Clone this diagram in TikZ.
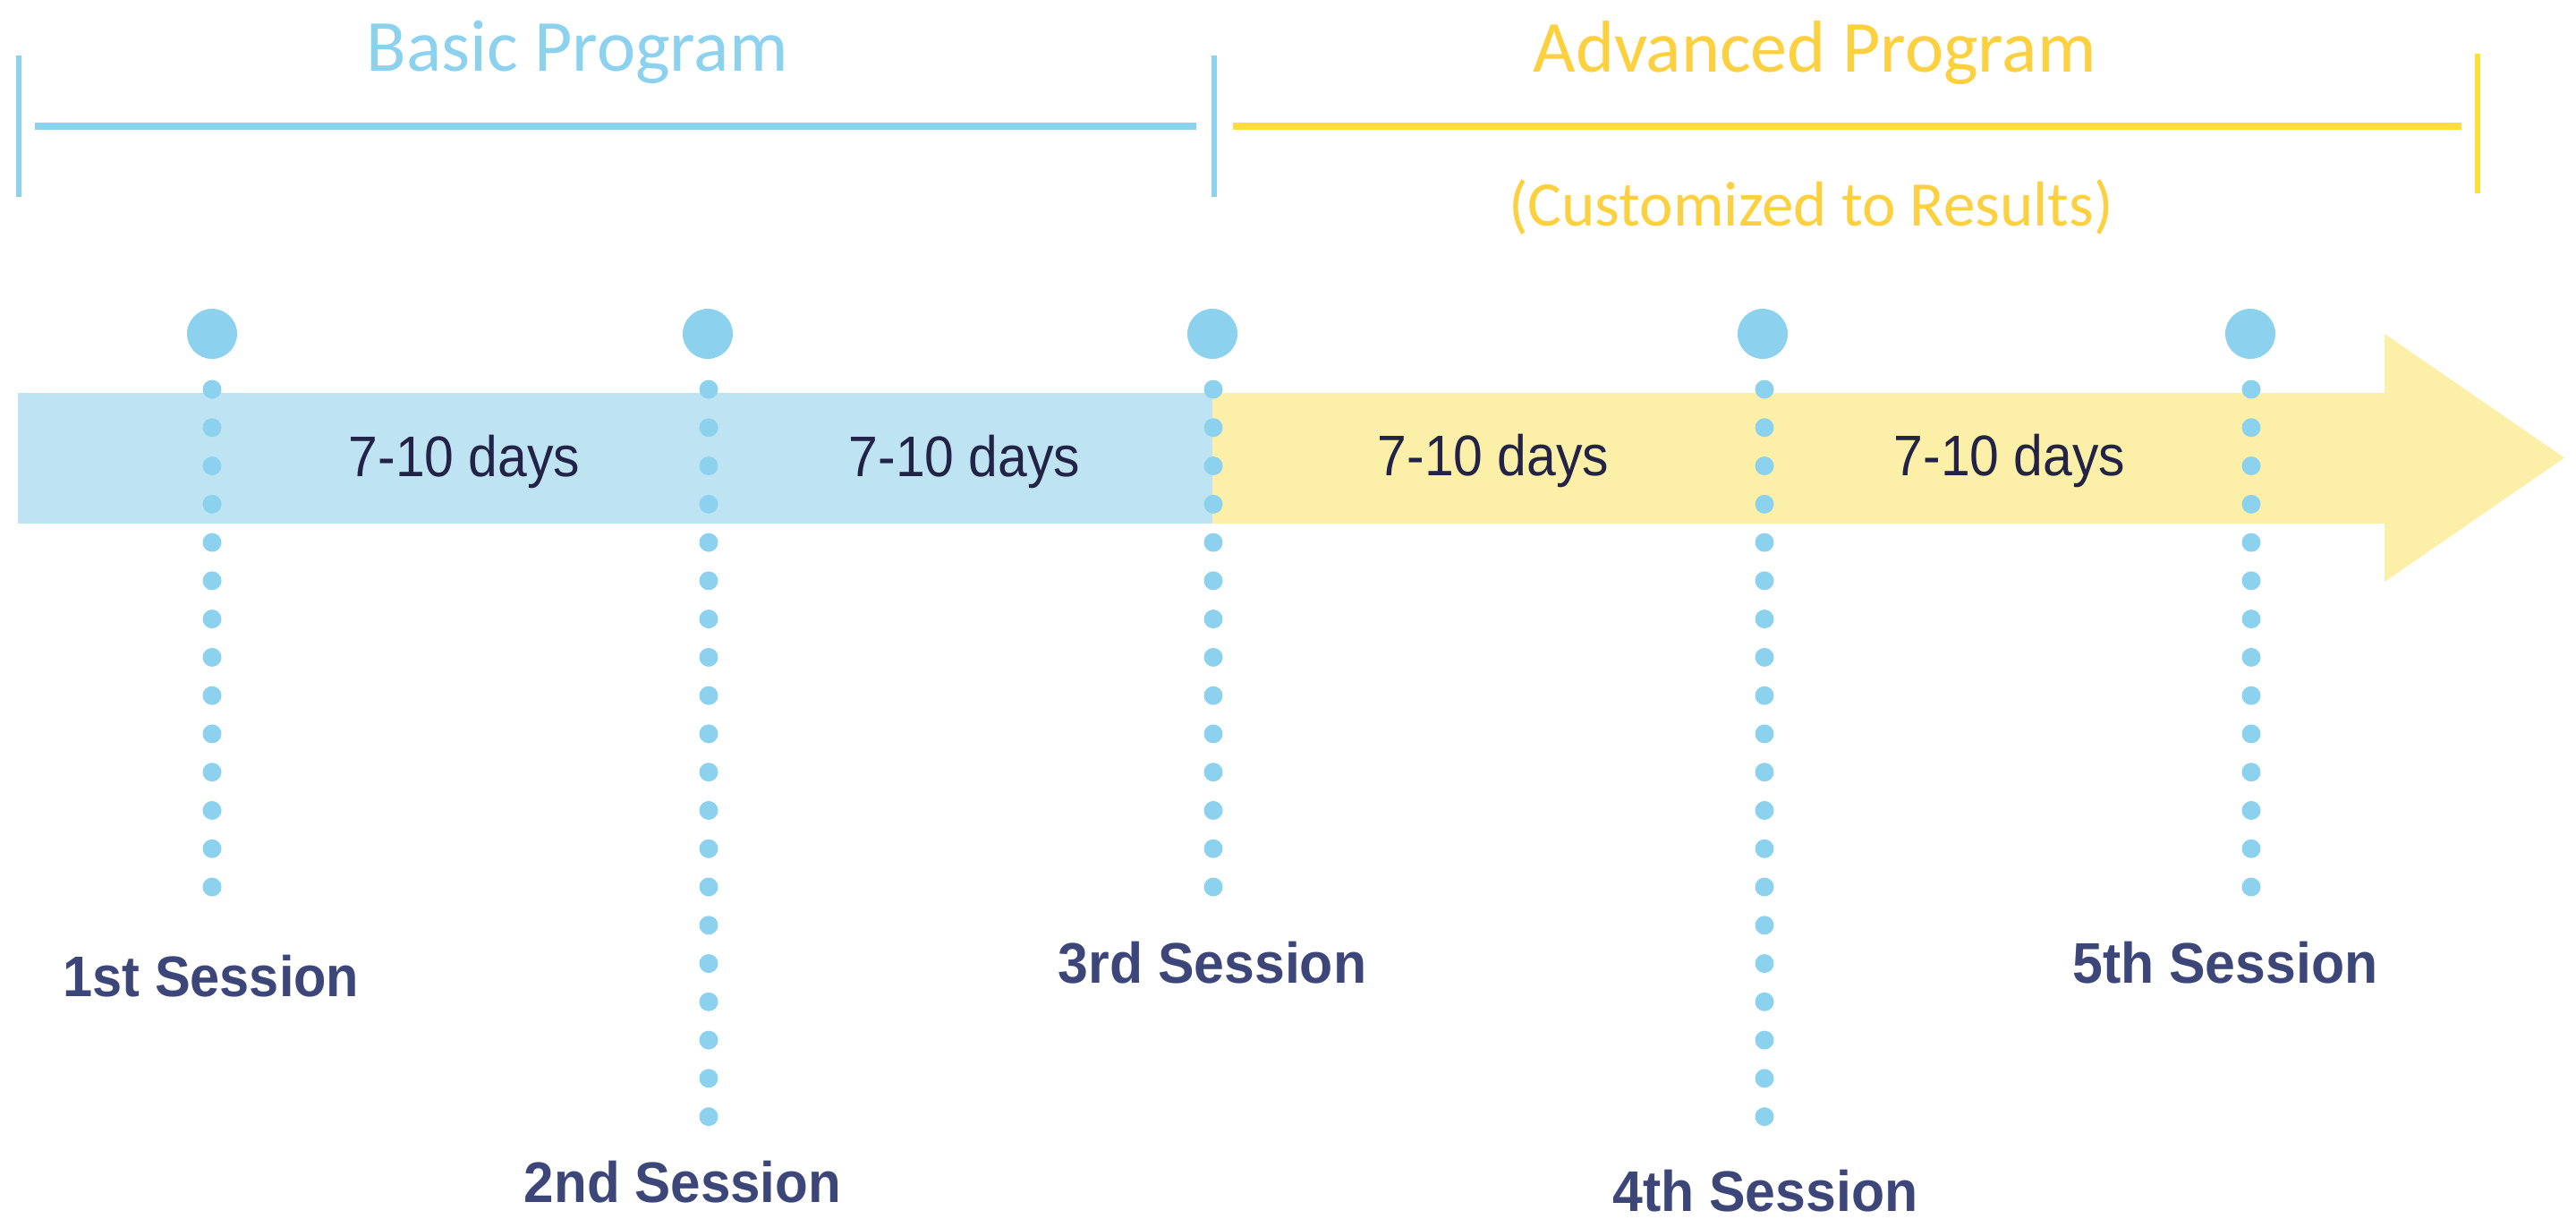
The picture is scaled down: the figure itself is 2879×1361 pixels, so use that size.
\documentclass[tikz,border=0pt]{standalone}
\usepackage{fontspec}
\setmainfont{Liberation Sans}
\newfontfamily\calib{Carlito}
\usepackage{graphicx}
\definecolor{dotblue}{HTML}{8CD2EF}
\definecolor{bandblue}{HTML}{BEE4F4}
\definecolor{bandyellow}{HTML}{FCEFA7}
\definecolor{lineyellow}{HTML}{FFDF35}
\definecolor{textyellow}{HTML}{FDD03F}
\definecolor{daytext}{HTML}{232348}
\definecolor{sesstext}{HTML}{3D4679}
\tikzset{
  bigdot/.style={circle, fill=dotblue, minimum size=56pt, inner sep=0pt},
  dotline/.style={draw=dotblue, line width=21pt, line cap=round, dash pattern=on 0pt off 42.77pt},
  bluebar/.style={draw=dotblue, line width=8pt},
  yellowbar/.style={draw=lineyellow, line width=8pt},
  bluetick/.style={draw=dotblue, line width=6pt},
  yellowtick/.style={draw=lineyellow, line width=6pt},
  daylabel/.style={inner sep=0pt, anchor=base, text=daytext, font=\fontsize{64}{70}\selectfont},
  sesslabel/.style={inner sep=0pt, anchor=base, text=sesstext, font=\bfseries\fontsize{64}{70}\selectfont},
  titlelabel/.style={inner sep=0pt, anchor=base, font=\calib\fontsize{82}{90}\selectfont},
}
\begin{document}
\begin{tikzpicture}[x=1pt,y=-1pt]
\useasboundingbox (0,0) rectangle (2879,1361);
\fill[white] (0,0) rectangle (2879,1361);

% brackets
\coordinate (tl1) at (21,62); \coordinate (tl2) at (21,220);
\coordinate (tm1) at (1357,62); \coordinate (tm2) at (1357,220);
\coordinate (tr1) at (2769,60); \coordinate (tr2) at (2769,216);
\coordinate (bl1) at (39,141); \coordinate (bl2) at (1337,141);
\coordinate (yl1) at (1378,141); \coordinate (yl2) at (2751,141);
\draw[bluetick] (tl1) -- (tl2);
\draw[bluetick] (tm1) -- (tm2);
\draw[yellowtick] (tr1) -- (tr2);
\draw[bluebar] (bl1) -- (bl2);
\draw[yellowbar] (yl1) -- (yl2);

\node[titlelabel, text=dotblue] (basic) at (645,79) {Basic Program};
\node[titlelabel, text=textyellow] (adv) at (2028,80) {Advanced Program};
\node[titlelabel, text=textyellow, font=\calib\fontsize{71}{80}\selectfont] (cust) at (2024,252) {(Customized to Results)};

% band
\fill[bandblue] (20,439) rectangle (1356,585);
\fill[bandyellow] (1355,439) -- (2665,439) -- (2665,373) -- (2866,511.5) -- (2665,650) -- (2665,585) -- (1355,585) -- cycle;

% dotted lines
\coordinate (s1) at (237,435); \coordinate (e1) at (237,993);
\coordinate (s2) at (792,435); \coordinate (e2) at (792,1249);
\coordinate (s3) at (1356,435); \coordinate (e3) at (1356,993);
\coordinate (s4) at (1972,435); \coordinate (e4) at (1972,1249);
\coordinate (s5) at (2516,435); \coordinate (e5) at (2516,993);
\foreach \i in {1,...,5} { \draw[dotline] (s\i) -- (e\i); }

\node[bigdot] (d1) at (237,373) {};
\node[bigdot] (d2) at (791,373) {};
\node[bigdot] (d3) at (1355,373) {};
\node[bigdot] (d4) at (1970,373) {};
\node[bigdot] (d5) at (2515,373) {};

% day labels
\node[daylabel] (g1) at (519,532) {\scalebox{0.92}[1]{7-10 days}};
\node[daylabel] (g2) at (1078,532) {\scalebox{0.92}[1]{7-10 days}};
\node[daylabel] (g3) at (1669,531) {\scalebox{0.92}[1]{7-10 days}};
\node[daylabel] (g4) at (2246,531) {\scalebox{0.92}[1]{7-10 days}};

% session labels
\node[sesslabel] (l1) at (236,1113) {\scalebox{0.93}[1]{1st Session}};
\node[sesslabel] (l2) at (763,1343) {\scalebox{0.94}[1]{2nd Session}};
\node[sesslabel] (l3) at (1355,1098) {\scalebox{0.95}[1]{3rd Session}};
\node[sesslabel] (l4) at (1973,1353) {\scalebox{0.95}[1]{4th Session}};
\node[sesslabel] (l5) at (2487,1098) {\scalebox{0.95}[1]{5th Session}};
\end{tikzpicture}
\end{document}
